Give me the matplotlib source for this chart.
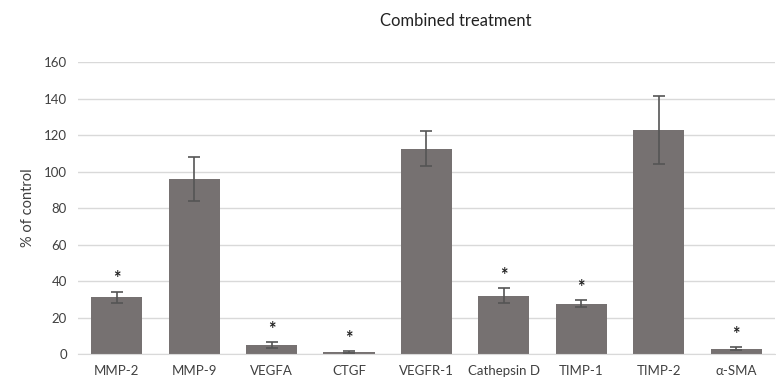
import numpy as np
import matplotlib
matplotlib.use("Agg")
import matplotlib.pyplot as plt

plt.rcParams['font.family'] = ['Lato', 'DejaVu Sans']

# data
labels = ['MMP-2', 'MMP-9', 'VEGFA', 'CTGF', 'VEGFR-1', 'Cathepsin D', 'TIMP-1', 'TIMP-2', 'α-SMA']
values = [31, 96, 5, 1, 112.5, 32, 27.5, 123, 3]
errors = [3, 12, 1.5, 0.6, 9.5, 4, 2, 18.7, 0.7]
signif = [True, False, True, True, False, True, True, False, True]

fig = plt.figure(figsize=(7.76, 3.83), dpi=100)
ax = fig.add_axes([0.1005, 0.0757, 0.898, 0.762])

x = np.arange(len(labels))
ax.bar(x, values, width=0.66, color='#767171', zorder=2)
ax.errorbar(x, values, yerr=errors, fmt='none', ecolor='#555555',
            elinewidth=1.2, capsize=4, capthick=1.2, zorder=3)

# asterisks above the significant bars
for i in range(len(labels)):
    if signif[i]:
        ax.text(x[i], values[i] + errors[i] + 2.5, '*', ha='center', va='bottom',
                fontsize=13, fontweight='bold', color='#222222')

ax.set_xlim(-0.5, len(labels) - 0.5)
ax.set_ylim(0, 160)
ax.set_yticks(np.arange(0, 161, 20))
ax.set_xticks(x)
ax.set_xticklabels(labels)
ax.yaxis.grid(True, color='#d9d9d9', linewidth=1, zorder=0)
ax.set_axisbelow(True)
for s in ['top', 'right', 'left']:
    ax.spines[s].set_visible(False)
ax.spines['bottom'].set_color('#d9d9d9')
ax.tick_params(axis='both', length=0, labelsize=9.5, colors='#404040', pad=8)
ax.set_ylabel('% of control', fontsize=10.5, color='#404040', labelpad=6)

fig.text(0.587, 0.945, 'Combined treatment', ha='center', va='center',
         fontsize=12, color='#222222')

fig.savefig('out.png', dpi=100)
